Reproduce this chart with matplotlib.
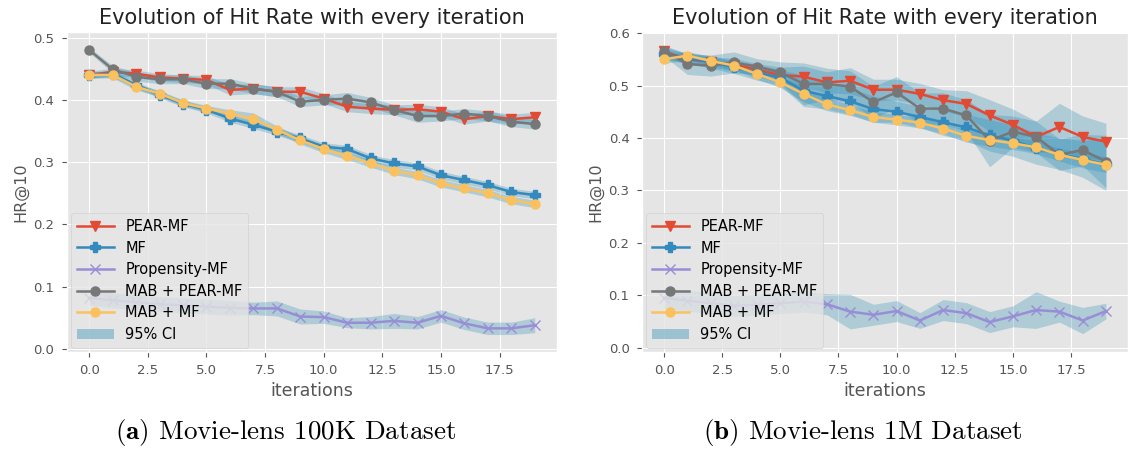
import numpy as np
import matplotlib.pyplot as plt

plt.style.use('ggplot')
plt.rcParams['mathtext.fontset'] = 'cm'

iters = np.arange(20)
names = ['PEAR-MF', 'MF', 'Propensity-MF', 'MAB + PEAR-MF', 'MAB + MF']
colors = ['#E24A33', '#348ABD', '#988ED5', '#777777', '#FBC15E']
markers = ['v', 'P', 'x', 'o', 'o']

# Movie-lens 100K
pear_100k = [0.440, 0.445, 0.442, 0.436, 0.434, 0.432, 0.416, 0.418, 0.413, 0.413,
             0.402, 0.389, 0.386, 0.384, 0.385, 0.381, 0.369, 0.374, 0.369, 0.372]
mf_100k = [0.440, 0.442, 0.424, 0.408, 0.394, 0.384, 0.370, 0.360, 0.349, 0.338,
           0.325, 0.321, 0.306, 0.298, 0.293, 0.279, 0.271, 0.263, 0.252, 0.247]
prop_100k = [0.082, 0.078, 0.075, 0.072, 0.070, 0.068, 0.066, 0.065, 0.065, 0.052,
             0.051, 0.042, 0.042, 0.045, 0.042, 0.053, 0.041, 0.033, 0.033, 0.038]
mabpear_100k = [0.480, 0.449, 0.437, 0.433, 0.433, 0.426, 0.426, 0.418, 0.413, 0.397,
                0.400, 0.402, 0.396, 0.384, 0.374, 0.374, 0.378, 0.374, 0.365, 0.361]
mabmf_100k = [0.440, 0.440, 0.421, 0.410, 0.395, 0.386, 0.378, 0.369, 0.352, 0.335,
              0.321, 0.310, 0.298, 0.286, 0.279, 0.266, 0.258, 0.250, 0.239, 0.233]
ci_100k = [
    [0.006, 0.006, 0.006, 0.006, 0.006, 0.007, 0.008, 0.008, 0.008, 0.008,
     0.008, 0.008, 0.008, 0.008, 0.008, 0.008, 0.008, 0.008, 0.008, 0.008],
    [0.005, 0.005, 0.005, 0.005, 0.005, 0.005, 0.006, 0.006, 0.006, 0.006,
     0.006, 0.006, 0.006, 0.006, 0.006, 0.006, 0.006, 0.006, 0.006, 0.006],
    [0.012, 0.012, 0.012, 0.012, 0.012, 0.012, 0.012, 0.010, 0.012, 0.012,
     0.010, 0.008, 0.010, 0.012, 0.010, 0.010, 0.010, 0.010, 0.010, 0.012],
    [0.004, 0.006, 0.007, 0.007, 0.007, 0.008, 0.008, 0.008, 0.008, 0.008,
     0.008, 0.010, 0.008, 0.008, 0.010, 0.008, 0.008, 0.008, 0.008, 0.008],
    [0.005, 0.005, 0.005, 0.005, 0.005, 0.005, 0.006, 0.010, 0.006, 0.006,
     0.006, 0.006, 0.006, 0.006, 0.006, 0.006, 0.006, 0.006, 0.006, 0.006],
]

# Movie-lens 1M
pear_1m = [0.565, 0.550, 0.545, 0.540, 0.530, 0.520, 0.517, 0.506, 0.509, 0.492,
           0.492, 0.484, 0.472, 0.465, 0.443, 0.425, 0.402, 0.421, 0.402, 0.393]
mf_1m = [0.560, 0.552, 0.545, 0.535, 0.525, 0.515, 0.490, 0.480, 0.470, 0.455,
         0.450, 0.440, 0.430, 0.420, 0.405, 0.395, 0.380, 0.370, 0.360, 0.350]
prop_1m = [0.095, 0.090, 0.085, 0.080, 0.082, 0.085, 0.088, 0.083, 0.069, 0.063,
           0.070, 0.052, 0.072, 0.066, 0.049, 0.060, 0.072, 0.069, 0.052, 0.070]
mabpear_1m = [0.566, 0.541, 0.538, 0.544, 0.536, 0.525, 0.503, 0.503, 0.498, 0.468,
              0.487, 0.456, 0.456, 0.443, 0.395, 0.412, 0.402, 0.368, 0.377, 0.355]
mabmf_1m = [0.550, 0.557, 0.547, 0.538, 0.522, 0.506, 0.484, 0.464, 0.453, 0.440,
            0.435, 0.429, 0.418, 0.404, 0.396, 0.390, 0.382, 0.368, 0.358, 0.349]
ci_1m = [
    [0.010, 0.010, 0.010, 0.012, 0.012, 0.015, 0.020, 0.020, 0.025, 0.020,
     0.020, 0.020, 0.020, 0.025, 0.030, 0.030, 0.030, 0.045, 0.040, 0.035],
    [0.010, 0.010, 0.012, 0.012, 0.015, 0.015, 0.030, 0.025, 0.025, 0.025,
     0.020, 0.020, 0.025, 0.025, 0.030, 0.030, 0.030, 0.030, 0.035, 0.050],
    [0.020, 0.020, 0.020, 0.020, 0.020, 0.020, 0.020, 0.020, 0.033, 0.020,
     0.020, 0.015, 0.020, 0.020, 0.020, 0.020, 0.035, 0.020, 0.025, 0.015],
    [0.010, 0.020, 0.020, 0.020, 0.015, 0.020, 0.040, 0.030, 0.030, 0.030,
     0.030, 0.030, 0.030, 0.030, 0.050, 0.030, 0.030, 0.030, 0.030, 0.050],
    [0.008, 0.008, 0.008, 0.008, 0.010, 0.010, 0.015, 0.012, 0.010, 0.010,
     0.010, 0.010, 0.010, 0.012, 0.012, 0.012, 0.012, 0.012, 0.015, 0.015],
]

fill_color = '#2f8fb5'

fig = plt.figure(figsize=(11.39, 4.55), dpi=100)
fig.patch.set_facecolor('white')
ax1 = fig.add_axes([67 / 1139, 1 - 352 / 455, 490 / 1139, 320 / 455])
ax2 = fig.add_axes([642 / 1139, 1 - 352 / 455, 486 / 1139, 320 / 455])

panels = [
    (ax1, [pear_100k, mf_100k, prop_100k, mabpear_100k, mabmf_100k], ci_100k, (-0.005, 0.509)),
    (ax2, [pear_1m, mf_1m, prop_1m, mabpear_1m, mabmf_1m], ci_1m, (-0.008, 0.602)),
]

for ax, series, cis, ylim in panels:
    for name, c, m, y, ci in zip(names, colors, markers, series, cis):
        y = np.array(y)
        ci = np.array(ci)
        ax.plot(iters, y, color=c, marker=m, markersize=6.5, linewidth=1.8, label=name)
        ax.fill_between(iters, y - ci, y + ci, color=fill_color, alpha=0.3, linewidth=0)
    ax.fill_between([], [], [], color=fill_color, alpha=0.4, linewidth=0, label='95% CI')
    ax.set_ylim(*ylim)
    ax.set_xlim(-0.95, 19.95)
    ax.set_title('Evolution of Hit Rate with every iteration', fontsize=15, color='#222222', pad=6)
    ax.set_xlabel('iterations', fontsize=12.5, color='#555555', labelpad=3)
    ax.set_ylabel('HR@10', fontsize=11.5, color='#555555', labelpad=4)
    ax.tick_params(labelsize=9.5, colors='#555555', pad=5.5)
    ax.legend(loc='lower left', fontsize=10.5, labelspacing=0.45, handlelength=2.5,
              borderaxespad=0.3, facecolor='#E5E5E5', framealpha=0.8)

fig.text(286 / 1139, 1 - 432 / 455, r'$\mathbf{(a)}$ Movie-lens 100K Dataset',
         family='cmr10', fontsize=19.5, ha='center', va='center')
fig.text(863 / 1139, 1 - 432 / 455, r'$\mathbf{(b)}$ Movie-lens 1M Dataset',
         family='cmr10', fontsize=19.5, ha='center', va='center')

fig.savefig('out.png', dpi=100)
